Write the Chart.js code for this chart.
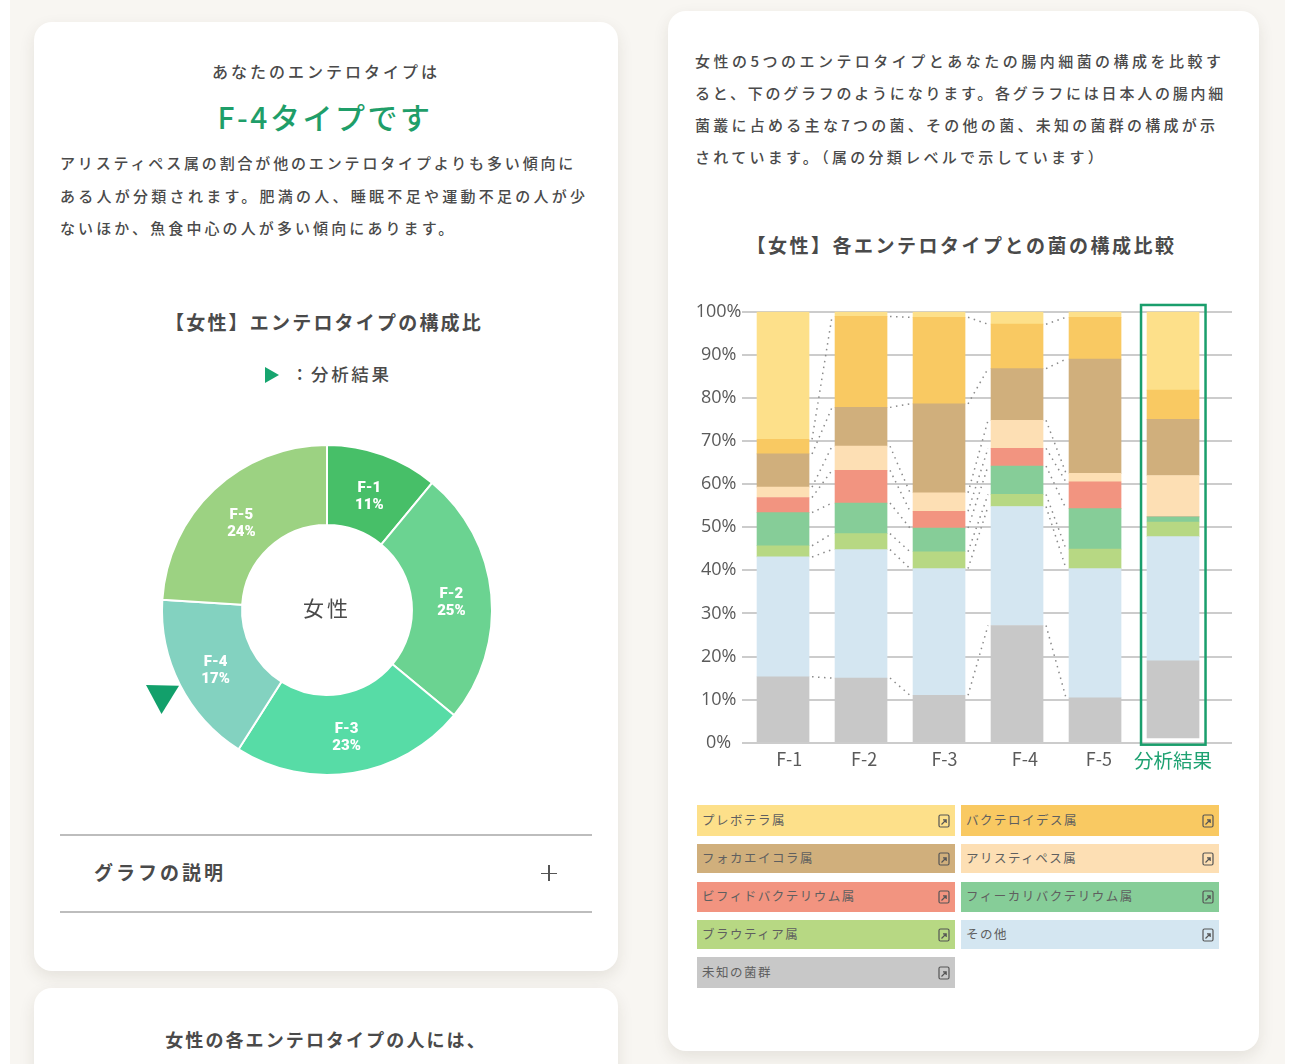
<!DOCTYPE html>
<html lang="ja">
<head>
<meta charset="utf-8">
<script src="https://cdn.jsdelivr.net/npm/chart.js@4/dist/chart.umd.min.js"></script>
<style>
html,body{margin:0;padding:0;background:#fff;}
#page{position:relative;width:1290px;height:1064px;overflow:hidden;background:#fff;font-family:"Noto Sans CJK JP","Noto Sans",sans-serif;color:#4a4a4a;}
#bg{position:absolute;left:10px;right:5px;top:0;bottom:0;background:#f8f6f2;}
.card{position:absolute;background:#fff;border-radius:18px;box-shadow:0 6px 16px rgba(60,50,30,.10);}
.t{position:absolute;white-space:nowrap;line-height:1;transform:translateY(-50%);}
.c{transform:translate(-50%,-50%);}
.body{font-size:15px;font-weight:500;}
.hd{font-size:19px;letter-spacing:2.2px;font-weight:700;}
.rule{position:absolute;left:60px;width:532px;height:1.5px;background:#bdbdbd;}
canvas{position:absolute;}
.leg{position:absolute;width:258px;box-sizing:border-box;padding:0 0 3px 5px;font-size:12.5px;letter-spacing:1.5px;color:#5f5f5f;display:flex;align-items:center;}
.leg svg{position:absolute;right:5px;top:50%;margin-top:-7px;}
</style>
</head>
<body>
<div id="page">
<div id="bg"></div>
<div class="card" style="left:34px;top:22px;width:584px;height:949px"></div>
<div class="card" style="left:34px;top:988px;width:584px;height:120px"></div>
<div class="card" style="left:668px;top:11px;width:591px;height:1040px"></div>

<div class="t c" style="left:326px;top:71px;font-size:16px;letter-spacing:3px;font-weight:500">あなたのエンテロタイプは</div>
<div class="t c" style="left:325px;top:115.5px;font-size:30px;letter-spacing:2.5px;font-weight:500;color:#1f9e69">F-4タイプです</div>
<div class="t body" style="left:60px;top:162px;letter-spacing:2.84px">アリスティペス属の割合が他のエンテロタイプよりも多い傾向に</div>
<div class="t body" style="left:60px;top:195px;letter-spacing:3.27px">ある人が分類されます。肥満の人、睡眠不足や運動不足の人が少</div>
<div class="t body" style="left:60px;top:227px;letter-spacing:3.1px">ないほか、魚食中心の人が多い傾向にあります。</div>
<div class="t c hd" style="left:324px;top:321px">【女性】エンテロタイプの構成比</div>
<div style="position:absolute;left:265px;top:367px;width:14px;height:16px;background:#16a56f;clip-path:polygon(0 0,100% 50%,0 100%)"></div>
<div class="t" style="left:291px;top:374px;font-size:17.5px;letter-spacing:2.6px;font-weight:500">：分析結果</div>

<canvas id="donut" style="left:155px;top:438px" width="344" height="344"></canvas>
<div class="t c" style="left:327px;top:607px;font-size:21px;letter-spacing:3px;font-weight:400">女性</div>
<div style="position:absolute;left:146px;top:685px;width:33px;height:29px;background:#12a06b;clip-path:polygon(0 0,100% 3%,47% 100%)"></div>

<div class="rule" style="top:834px"></div>
<div class="t" style="left:94px;top:871px;font-size:19px;letter-spacing:3px;font-weight:700">グラフの説明</div>
<div style="position:absolute;left:541px;top:872.5px;width:16px;height:1.3px;background:#555"></div>
<div style="position:absolute;left:548.4px;top:865px;width:1.3px;height:16px;background:#555"></div>
<div class="rule" style="top:911px"></div>
<div class="t c" style="left:326px;top:1039px;font-size:18px;letter-spacing:2.1px;font-weight:700">女性の各エンテロタイプの人には、</div>

<div class="t body" style="left:695px;top:60px;letter-spacing:3.48px">女性の5つのエンテロタイプとあなたの腸内細菌の構成を比較す</div>
<div class="t body" style="left:695px;top:92px;letter-spacing:2.77px">ると、下のグラフのようになります。各グラフには日本人の腸内細</div>
<div class="t body" style="left:695px;top:124px;letter-spacing:3.27px">菌叢に占める主な7つの菌、その他の菌、未知の菌群の構成が示</div>
<div class="t body" style="left:695px;top:156px;letter-spacing:3.3px">されています。（属の分類レベルで示しています）</div>
<div class="t c hd" style="left:961.5px;top:244px;letter-spacing:2.5px">【女性】各エンテロタイプとの菌の構成比較</div>

<canvas id="bars" style="left:690px;top:295px" width="550" height="490"></canvas>
<div id="legend"></div>
</div>

<script>
const donutLabels = ["F-1","F-2","F-3","F-4","F-5"];
const donutValues = [11,25,23,17,24];
const donutColors = ["#47bf68","#6bd391","#57dca6","#83d2c0","#9cd282"];

const categories = ["F-1","F-2","F-3","F-4","F-5","分析結果"];
const tickPositions = [0.08,1.04,2.07,3.1,4.05,5];
const spacer       = [0,0,0,0,0,1.1];
const unknown      = [15.3,15.0,11.0,27.2,10.4,17.9];
const others       = [27.8,29.8,29.4,27.6,30.0,28.8];
const blautia      = [2.6,3.7,3.9,2.8,4.5,3.4];
const faecalibact  = [7.7,7.1,5.5,6.6,9.4,1.2];
const bifido       = [3.5,7.6,3.9,4.1,6.2,0];
const alistipes    = [2.4,5.6,4.3,6.5,2.0,9.6];
const faecalicoccus= [7.7,9.0,20.6,12.0,26.5,13.0];
const bacteroides  = [3.4,21.1,20.1,10.3,9.7,6.8];
const prevotella   = [29.6,1.1,1.3,2.9,1.3,18.6];

const seriesNames  = ["未知の菌群","その他","ブラウティア属","フィーカリバクテリウム属","ビフィドバクテリウム属","アリスティペス属","フォカエイコラ属","バクテロイデス属","プレボテラ属"];
const seriesValues = [unknown,others,blautia,faecalibact,bifido,alistipes,faecalicoccus,bacteroides,prevotella];
const seriesColors = ["#c8c8c8","#d4e6f1","#b7d883","#86cd98","#f29480","#fddfb4","#d0af7c","#f9c962","#fde08a"];

const legendOrder = ["プレボテラ属","バクテロイデス属","フォカエイコラ属","アリスティペス属","ビフィドバクテリウム属","フィーカリバクテリウム属","ブラウティア属","その他","未知の菌群"];
const rowTops = [805,844,882,920,957];
const rowHeights = [31,29,30,29,31];
const colLefts = [697,961];

const FONT = '"Noto Sans CJK JP","Noto Sans",sans-serif';

const legendEl = document.getElementById('legend');
legendOrder.forEach((name,i)=>{
  const r = Math.floor(i/2), c = i%2;
  const d = document.createElement('div');
  d.className='leg';
  d.style.cssText=`left:${colLefts[c]}px;top:${rowTops[r]}px;height:${rowHeights[r]}px;background:${seriesColors[seriesNames.indexOf(name)]}`;
  d.innerHTML=`<span>${name}</span><svg width="12" height="14" viewBox="0 0 12 14"><rect x="1" y="1" width="10" height="12" rx="1.5" fill="none" stroke="#555" stroke-width="1.2"/><path d="M3.5 10.5L8 6M5 5.8h3.2V9" fill="none" stroke="#555" stroke-width="1.2"/></svg>`;
  legendEl.appendChild(d);
});

const arcLabels = {
  id:'arcLabels',
  afterDatasetsDraw(chart){
    const {ctx}=chart;
    const meta=chart.getDatasetMeta(0);
    ctx.save();
    ctx.fillStyle='#fff';
    ctx.textAlign='center';
    ctx.textBaseline='middle';
    ctx.font='900 15px Roboto,sans-serif';
    meta.data.forEach((arc,i)=>{
      const p=arc.getCenterPoint();
      ctx.fillText(donutLabels[i],p.x,p.y-4);
      ctx.fillText(donutValues[i]+'%',p.x,p.y+13);
    });
    ctx.restore();
  }
};

new Chart(document.getElementById('donut'),{
  type:'doughnut',
  data:{labels:donutLabels,datasets:[{data:donutValues,backgroundColor:donutColors,borderColor:'#fff',borderWidth:2}]},
  options:{responsive:false,animation:false,cutout:'51.5%',
    layout:{padding:6},
    plugins:{legend:{display:false},tooltip:{enabled:false}}},
  plugins:[arcLabels]
});

const connectors = {
  id:'connectors',
  afterDatasetsDraw(chart){
    const {ctx}=chart;
    ctx.save();
    ctx.strokeStyle='#8a8a8a';
    ctx.lineWidth=1.5;
    ctx.setLineDash([1.5,4.5]);
    for(let d=1;d<chart.data.datasets.length-1;d++){
      const els=chart.getDatasetMeta(d).data;
      for(let i=0;i<els.length-2;i++){
        const a=els[i],b=els[i+1];
        ctx.beginPath();
        ctx.moveTo(a.x+a.width/2+3,a.y);
        ctx.lineTo(b.x-b.width/2-3,b.y);
        ctx.stroke();
      }
    }
    ctx.setLineDash([]);
    // green frame around the result column
    const col=categories.length-1;
    const first=chart.getDatasetMeta(1).data[col];
    const top=chart.getDatasetMeta(chart.data.datasets.length-1).data[col];
    const y0=chart.scales.y.getPixelForValue(0);
    ctx.strokeStyle='#1a9e6c';
    ctx.lineWidth=2.5;
    ctx.strokeRect(first.x-first.width/2-6,top.y-5,first.width+12.5,y0+2-(top.y-5));
    ctx.restore();
  }
};

new Chart(document.getElementById('bars'),{
  type:'bar',
  data:{datasets:[
    {label:'',data:spacer.map((v,i)=>({x:i,y:v})),backgroundColor:'rgba(0,0,0,0)',barThickness:52},
    ...seriesNames.map((n,k)=>({label:n,data:seriesValues[k].map((v,i)=>({x:i,y:v})),backgroundColor:seriesColors[k],barThickness:52}))
  ]},
  options:{
    responsive:false,animation:false,
    layout:{padding:{top:16.7,right:8,left:0,bottom:0}},
    plugins:{legend:{display:false},tooltip:{enabled:false}},
    scales:{
      x:{type:'linear',stacked:true,offset:false,min:-0.526,max:5.756,
        grid:{display:false},border:{display:false},
        afterBuildTicks(s){s.ticks=tickPositions.map(v=>({value:v}));},
        afterFit(s){s.height=42.3;},
        ticks:{autoSkip:false,maxRotation:0,padding:-2,
          callback:(v,i)=>categories[i],
          color:c=>c.index===5?'#1fa272':'#5a5a5a',
          font:c=>({family:FONT,size:c.index===5?19.5:18})}
      },
      y:{stacked:true,min:0,max:100,
        grid:{color:'#cccccc',lineWidth:2,drawTicks:false},border:{display:false},
        afterFit(s){s.width=52;},
        ticks:{stepSize:10,crossAlign:'center',padding:0.5,color:'#5a5a5a',
          callback:v=>v+'%',
          font:{family:'"Open Sans",sans-serif',size:18}}
      }
    }
  },
  plugins:[connectors]
});
</script>
</body>
</html>
